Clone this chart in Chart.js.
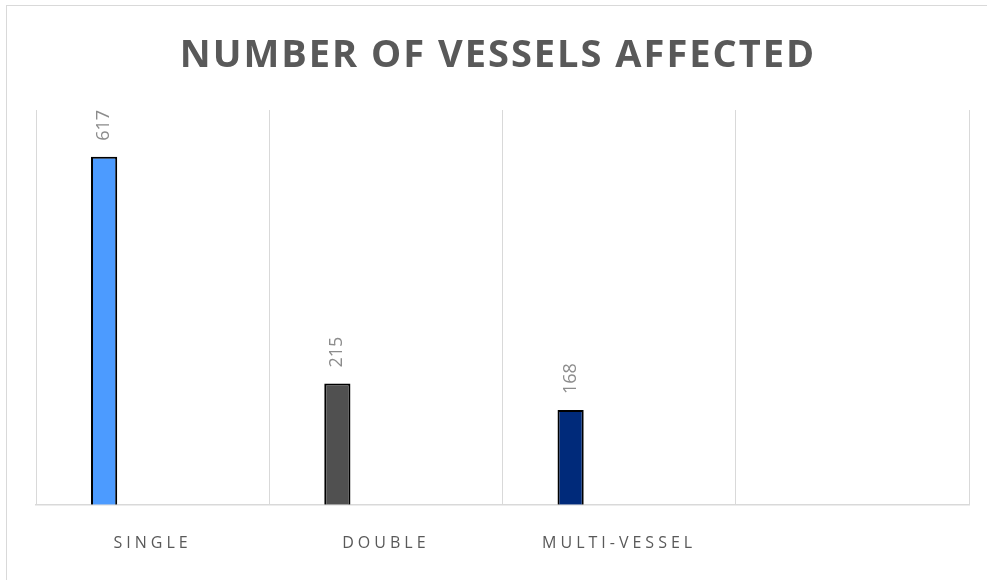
<!DOCTYPE html>
<html lang="en">
<head>
    <meta charset="UTF-8">
    <title>Number of vessels affected</title>
    <script src="https://cdn.jsdelivr.net/npm/chart.js"></script>
    <style>
        body {
            margin: 0;
            padding: 0;
            background-color: #ffffff;
        }
        #wrap {
            width: 987px;
            height: 580px;
        }
    </style>
</head>
<body>
    <div id="wrap"><canvas id="myChart"></canvas></div>

    <script>
        // chart data
        const chartTitle = 'NUMBER OF VESSELS AFFECTED';
        const categories = ['SINGLE', 'DOUBLE', 'MULTI-VESSEL', ''];
        const vesselCounts = [617, 215, 168];
        const barColors = ['#4c9bff', '#505050', '#002a7a'];
        const yMax = 700;

        // frame, title and letter-spacing for the axis labels
        const decorPlugin = {
            id: 'decor',
            beforeDraw(chart) {
                const ctx = chart.ctx;
                ctx.save();
                ctx.strokeStyle = '#d9d9d9';
                ctx.lineWidth = 1;
                ctx.strokeRect(6.5, 5.5, 1000, 620);
                ctx.restore();
                ctx.letterSpacing = '4px';
            },
            afterDraw(chart) {
                const ctx = chart.ctx;
                ctx.save();
                ctx.letterSpacing = '2px';
                ctx.font = 'bold 38px "Open Sans"';
                ctx.fillStyle = '#595959';
                ctx.textAlign = 'center';
                ctx.textBaseline = 'alphabetic';
                ctx.fillText(chartTitle, 498, 67);
                ctx.restore();
            }
        };

        // rotated value labels above the bars
        const valueLabels = {
            id: 'valueLabels',
            afterDatasetsDraw(chart) {
                const ctx = chart.ctx;
                const meta = chart.getDatasetMeta(0);
                ctx.save();
                ctx.letterSpacing = '0px';
                ctx.font = '18px "Open Sans"';
                ctx.fillStyle = '#8c8c8c';
                ctx.textAlign = 'left';
                ctx.textBaseline = 'middle';
                meta.data.forEach((bar, i) => {
                    if (vesselCounts[i] == null) return;
                    ctx.save();
                    ctx.translate(bar.x, bar.y - 16);
                    ctx.rotate(-Math.PI / 2);
                    ctx.fillText(String(vesselCounts[i]), 0, 0);
                    ctx.restore();
                });
                ctx.restore();
            }
        };

        const emptySlot = categories.map(() => null);

        const ctx = document.getElementById('myChart').getContext('2d');
        new Chart(ctx, {
            type: 'bar',
            data: {
                labels: categories,
                datasets: [
                    {
                        label: 'Vessels',
                        data: vesselCounts,
                        backgroundColor: barColors,
                        borderColor: '#000000',
                        borderWidth: 2,
                        barPercentage: 0.54,
                        categoryPercentage: 0.624
                    },
                    // empty series keep the bars at the left of each group, as in the original
                    { label: '', data: emptySlot, barPercentage: 0.54, categoryPercentage: 0.624 },
                    { label: '', data: emptySlot, barPercentage: 0.54, categoryPercentage: 0.624 }
                ]
            },
            options: {
                responsive: true,
                maintainAspectRatio: false,
                animation: false,
                events: [],
                layout: {
                    padding: { left: 36, right: 18, top: 110, bottom: -2 }
                },
                plugins: {
                    legend: { display: false },
                    title: { display: false },
                    tooltip: { enabled: false }
                },
                scales: {
                    x: {
                        grid: {
                            color: '#d9d9d9',
                            lineWidth: 1,
                            drawTicks: false
                        },
                        border: { color: '#d9d9d9', width: 1.5 },
                        ticks: {
                            color: '#595959',
                            font: { family: '"Open Sans"', size: 16 },
                            padding: 29,
                            maxRotation: 0,
                            autoSkip: false
                        }
                    },
                    y: {
                        display: false,
                        min: 0,
                        max: yMax
                    }
                }
            },
            plugins: [decorPlugin, valueLabels]
        });
    </script>
</body>
</html>
